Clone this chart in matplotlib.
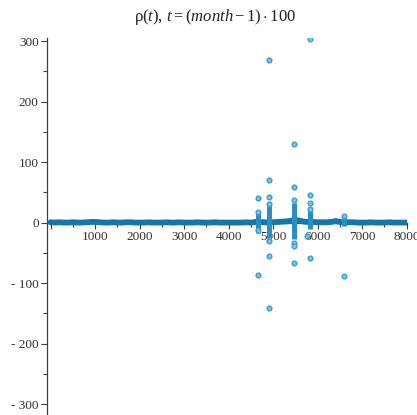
import matplotlib
matplotlib.use('Agg')
import matplotlib.pyplot as plt
from matplotlib.ticker import MultipleLocator, FuncFormatter

plt.rcParams['mathtext.fontset'] = 'custom'
plt.rcParams['mathtext.rm'] = 'Liberation Serif'
plt.rcParams['mathtext.it'] = 'Liberation Serif:italic'

# baseline of rho(t), read every 100 units of t
base_t = list(range(0, 8001, 100))
base_v = [0.5, 0, 0.5, 0, 0, 0.5, 0, 0, 0.5, 1,
          1, 0.5, 0, 0, 0.5, 0, 0, 0.5, 0.5, 0,
          0, 0, 0.5, 0, 0, 0, 0.5, 0, 0, 0.5,
          0, 0, 0, 0.5, 0, 0, 0, 0.5, 0, 0,
          0, 0, 0, 0, 0.5, 0, 1, 1, 0.5, 0,
          0.5, 1, 1.5, 2, 3, 4.5, 3, 1.5, 1, 1,
          0.5, 0.5, 0.5, 1, 2.5, 1, 0.5, 0.5, 0.5, 0,
          0, 0, 0.5, 0, 0, 0, 0.5, 0, 0, 0, 0]

# dense vertical streaks of points (t, low, high)
streak_t = [4650, 4900, 5460, 5820, 6600]
streak_lo = [-18, -25, -27, -10, -6]
streak_hi = [15, 31, 32, 25, 8]

# isolated points
out_t = [4650, 4650, 4650, 4650,
         4900, 4900, 4900, 4900, 4900, 4900, 4900,
         5460, 5460, 5460, 5460, 5460, 5460,
         5820, 5820, 5820, 5820, 5820, 5750,
         6600, 6600]
out_v = [40, 18, -12, -86,
         269, 71, 43, 31, -31, -55, -142,
         130, 58, 37, -34, -38, -66,
         303, 45, 32, 22, -59, -23,
         11, -88]

fig = plt.figure(figsize=(4.17, 4.15), dpi=100)
ax = fig.add_axes([0.1127, 0.0, 0.8626, 0.9084])

ax.plot(base_t, base_v, color='#1577a8', lw=4.2, solid_capstyle='round', zorder=3)
ax.vlines(streak_t, streak_lo, streak_hi, color='#2a8ec0', lw=3.6, zorder=3)
ax.plot(out_t, out_v, 'o', ms=3.4, mfc='#7cc4e6', mec='#3f9ecd', mew=1.0, zorder=4)

ax.set_xlim(-79, 8000)
ax.set_ylim(-318, 305)

for s in ['top', 'right']:
    ax.spines[s].set_visible(False)
ax.spines['bottom'].set_position(('data', 0))
for s in ['bottom', 'left']:
    ax.spines[s].set_color('#404040')
    ax.spines[s].set_linewidth(0.9)

ax.xaxis.set_major_locator(MultipleLocator(1000))
ax.xaxis.set_minor_locator(MultipleLocator(500))
ax.yaxis.set_major_locator(MultipleLocator(100))
ax.yaxis.set_minor_locator(MultipleLocator(50))

def xfmt(v, pos):
    return '' if v <= 0 else '%d' % v

def yfmt(v, pos):
    return '- %d' % -v if v < 0 else '%d' % v

ax.xaxis.set_major_formatter(FuncFormatter(xfmt))
ax.yaxis.set_major_formatter(FuncFormatter(yfmt))
ax.tick_params(which='both', direction='out', color='#404040', width=0.8,
               labelsize=9.5, labelcolor='#333333', pad=2)
ax.tick_params(which='major', length=4)
ax.tick_params(which='minor', length=3)
for lb in ax.get_xticklabels() + ax.get_yticklabels():
    lb.set_family('Liberation Serif')

fig.text(215 / 417, 1 - 17 / 415, r'$\mathrm{\rho}(t),\, t = (month - 1)\cdot 100$',
         ha='center', va='center', fontsize=12, color='#222222')

fig.savefig('out.png', dpi=100)
